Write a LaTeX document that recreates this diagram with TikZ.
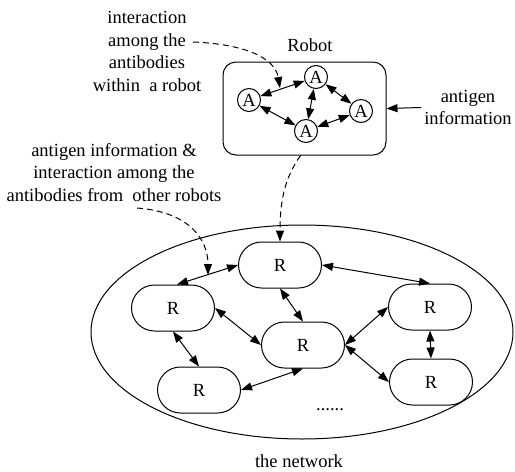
\documentclass[tikz,border=0pt]{standalone}
\usepackage{fontspec}
\setmainfont{Liberation Serif}
\usetikzlibrary{arrows.meta,shapes.geometric}

\begin{document}
\begin{tikzpicture}[x=0.5pt, y=-0.5pt, line width=0.5pt,
		every node/.style={font=\fontsize{9.25}{11.2}\selectfont},
		robotnode/.style={draw, rectangle, rounded corners=11.5pt, minimum width=41.5pt, minimum height=23pt, inner sep=0pt},
		antibody/.style={draw, circle, minimum size=11.5pt, inner sep=0pt},
		link/.style={{Triangle[length=5.5pt,width=4pt]}-{Triangle[length=5.5pt,width=4pt]}},
		hint/.style={dash pattern=on 3pt off 2pt, -{Triangle[length=5.5pt,width=4pt]}}]
			\useasboundingbox (0, 0) rectangle (515, 472);
			% one robot
			\begin{scope}
				\node (robot) [draw, rounded corners=6.5pt, minimum width=81.5pt, minimum height=46.5pt] at (304.5, 108.5) {};
				\node (robotlabel) at (310, 45) {Robot};
				\node (aL) [antibody] at (249, 100) {A};
				\node (aT) [antibody] at (316, 77) {A};
				\node (aR) [antibody] at (361, 111) {A};
				\node (aB) [antibody] at (306, 131) {A};
				\draw[link] (aL) -- (aT);
				\draw[link] (aT) -- (aR);
				\draw[link] (aL) -- (aB);
				\draw[link] (aT) -- (aB);
				\draw[link] (aB) -- (aR);
			\end{scope}
			% the network
			\begin{scope}
				\node (net) [draw, ellipse, minimum width=211pt, minimum height=107pt, inner sep=0pt] at (302, 332) {};
				\node (rT) [robotnode] at (280, 265) {R};
				\node (rL) [robotnode] at (173, 308) {R};
				\node (rM) [robotnode] at (303, 345) {R};
				\node (rB) [robotnode] at (199, 390) {R};
				\node (rR1) [robotnode] at (430, 307) {R};
				\node (rR2) [robotnode] at (431, 382) {R};
				\draw[link] ([xshift=2pt]rL.north) -- (rT.west);
				\draw[link] (rT.east) -- (rR1.north);
				\draw[link] (rT.south) -- (rM.north);
				\draw[link] (rL.east) -- (rM.west);
				\draw[link] (rL.south) -- (rB.north);
				\draw[link] (rM.south) -- (rB.east);
				\draw[link] (rM.east) -- (rR1.west);
				\draw[link] (rM.east) -- (rR2.west);
				\draw[link] (rR1.south) -- (rR2.north);
				\node (dots) at (330, 410) {......};
				\node (netlabel) at (299, 461) {the network};
			\end{scope}
			% labels
			\node (inrobot) [align=center] at (147, 51.5) {interaction\\among the\\antibodies\\within\ \ a robot};
			\node (antigen) [align=center] at (468, 107.5) {antigen\\information};
			\node (otherrobots) [align=center] at (114, 172.5) {antigen information \&\\interaction among the\\antibodies from\ \ other robots};
			\coordinate (inrobotend) at (193, 42);
			\coordinate (otherend) at (137, 208);
			\coordinate (hitA) at (280, 88);
			\coordinate (hitR) at (208, 275);
			\draw[hint] (inrobotend) .. controls (245, 44) and (275, 58) .. (hitA);
			\draw[hint] (otherend) .. controls (190, 212) and (208, 240) .. (hitR);
			\draw[hint] ([xshift=-2pt]robot.south) .. controls (287, 175) and (280, 195) .. (rT.north);
			\draw[-{Triangle[length=5.5pt,width=4pt]}] ([xshift=2pt]antigen.west) -- (robot.east);
		\end{tikzpicture}
\end{document}
